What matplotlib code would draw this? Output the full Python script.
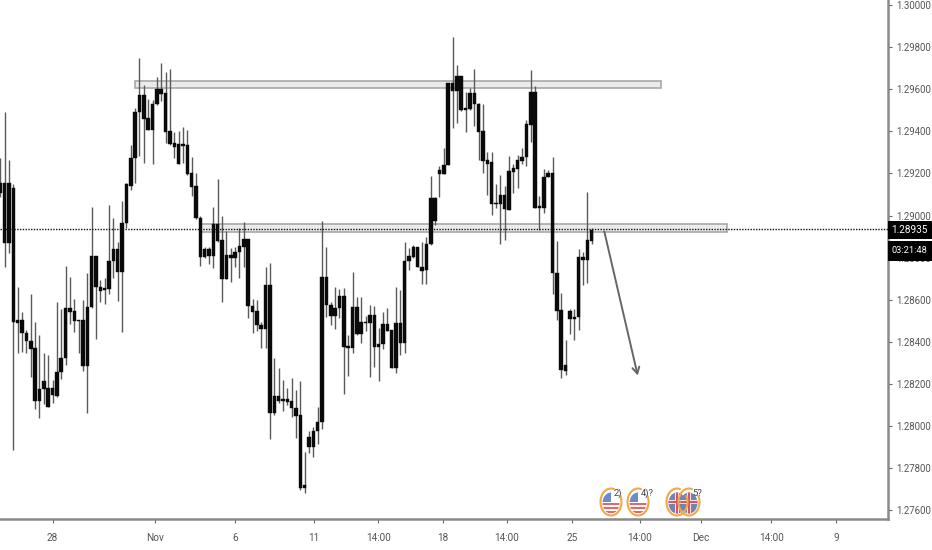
import matplotlib
matplotlib.use("Agg")
import numpy as np
import matplotlib.pyplot as plt
from matplotlib.patches import Rectangle, Ellipse
from matplotlib.lines import Line2D

W, H = 932, 550
high = [1.29272,1.29493,1.29264,1.29150,1.28662,1.28543,1.28456,1.28625,1.28496,1.28432,
1.28348,1.28337,1.28218,1.28587,1.28556,1.28760,1.28706,1.28603,1.28503,1.28598,
1.28728,1.29042,1.28808,1.28694,1.28701,1.29050,1.28987,1.28876,1.29069,1.29153,
1.29335,1.29512,1.29750,1.29620,1.29552,1.29549,1.29660,1.29723,1.29680,1.29696,
1.29398,1.29403,1.29422,1.29406,1.29280,1.29204,1.28999,1.28849,1.28852,1.29042,
1.29172,1.28999,1.28928,1.28844,1.28852,1.28942,1.28968,1.28888,1.28603,1.28598,
1.28496,1.28754,1.28776,1.28321,1.28274,1.28218,1.28182,1.28226,1.28171,1.28214,
1.27878,1.27978,1.27997,1.28088,1.28974,1.28852,1.28591,1.28662,1.28651,1.28654,
1.28432,1.28733,1.28614,1.28614,1.28522,1.28575,1.28572,1.28464,1.28540,1.28562,
1.28456,1.28662,1.28646,1.28876,1.28844,1.28860,1.28849,1.28873,1.28896,1.29188,
1.29090,1.29235,1.29322,1.29628,1.29846,1.29715,1.29664,1.29588,1.29604,1.29696,
1.29533,1.29529,1.29303,1.29300,1.29149,1.29192,1.29140,1.29284,1.29243,1.29287,
1.29319,1.29456,1.29691,1.29616,1.29092,1.29219,1.29216,1.29279,1.28878,1.28630,
1.28408,1.28554,1.28554,1.28843,1.28828,1.29113,1.28943]
body_top = [1.29156,1.29156,1.29153,1.29129,1.28503,1.28503,1.28443,1.28405,1.28369,1.28176,
1.28214,1.28179,1.28179,1.28255,1.28324,1.28562,1.28562,1.28546,1.28503,1.28503,
1.28567,1.28808,1.28808,1.28662,1.28654,1.28785,1.28839,1.28839,1.28963,1.29148,
1.29275,1.29493,1.29573,1.29573,1.29462,1.29530,1.29601,1.29601,1.29581,1.29403,
1.29343,1.29338,1.29338,1.29333,1.29200,1.29140,1.28990,1.28839,1.28839,1.28960,
1.28960,1.28884,1.28812,1.28812,1.28828,1.28855,1.28888,1.28888,1.28572,1.28546,
1.28480,1.28670,1.28670,1.28142,1.28142,1.28126,1.28126,1.28119,1.28084,1.28052,
1.27719,1.27946,1.27978,1.28020,1.28706,1.28706,1.28575,1.28559,1.28619,1.28619,
1.28380,1.28567,1.28567,1.28496,1.28496,1.28527,1.28527,1.28388,1.28484,1.28484,
1.28456,1.28491,1.28491,1.28785,1.28808,1.28849,1.28849,1.28757,1.28865,1.29082,
1.29082,1.29216,1.29240,1.29628,1.29628,1.29664,1.29664,1.29509,1.29580,1.29580,
1.29529,1.29401,1.29263,1.29252,1.29060,1.29097,1.29097,1.29211,1.29224,1.29263,
1.29279,1.29434,1.29585,1.29585,1.29045,1.29181,1.29203,1.29203,1.28725,1.28550,
1.28289,1.28547,1.28516,1.28801,1.28801,1.28883,1.28931]
body_bot = [1.29109,1.28871,1.28871,1.28496,1.28491,1.28440,1.28404,1.28366,1.28120,1.28120,
1.28174,1.28092,1.28147,1.28144,1.28255,1.28324,1.28543,1.28500,1.28499,1.28286,
1.28286,1.28564,1.28662,1.28643,1.28646,1.28649,1.28784,1.28730,1.28730,1.28963,
1.29142,1.29272,1.29490,1.29459,1.29406,1.29406,1.29530,1.29576,1.29398,1.29340,
1.29324,1.29243,1.29330,1.29196,1.29137,1.28987,1.28804,1.28804,1.28809,1.28809,
1.28880,1.28698,1.28698,1.28796,1.28796,1.28825,1.28852,1.28570,1.28543,1.28480,
1.28462,1.28462,1.28060,1.28060,1.28119,1.28120,1.28115,1.28084,1.28049,1.27704,
1.27707,1.27898,1.27898,1.27976,1.28017,1.28575,1.28522,1.28522,1.28559,1.28377,
1.28372,1.28372,1.28437,1.28437,1.28488,1.28488,1.28377,1.28377,1.28388,1.28453,
1.28274,1.28274,1.28393,1.28393,1.28785,1.28804,1.28757,1.28738,1.28741,1.28865,
1.28974,1.29197,1.29197,1.29239,1.29593,1.29593,1.29501,1.29501,1.29506,1.29529,
1.29398,1.29260,1.29247,1.29057,1.29054,1.29054,1.29029,1.29026,1.29205,1.29220,
1.29258,1.29276,1.29430,1.29034,1.29034,1.29038,1.29181,1.28725,1.28547,1.28265,
1.28262,1.28508,1.28508,1.28516,1.28788,1.28788,1.28880]
low = [1.29090,1.28757,1.28820,1.27886,1.28348,1.28353,1.28348,1.28231,1.28081,1.28039,
1.28104,1.28092,1.28107,1.28139,1.28221,1.28290,1.28484,1.28445,1.28348,1.28263,
1.28060,1.28559,1.28413,1.28591,1.28579,1.28627,1.28701,1.28595,1.28445,1.28939,
1.29121,1.29153,1.29284,1.29248,1.29406,1.29243,1.29525,1.29544,1.29346,1.29335,
1.29272,1.29243,1.29248,1.29192,1.29094,1.28983,1.28762,1.28796,1.28770,1.28749,
1.28876,1.28591,1.28697,1.28682,1.28757,1.28701,1.28757,1.28511,1.28440,1.28451,
1.28372,1.28372,1.27938,1.28052,1.28107,1.28071,1.28100,1.28044,1.27941,1.27696,
1.27680,1.27873,1.27851,1.27914,1.27984,1.28519,1.28480,1.28461,1.28515,1.28150,
1.28237,1.28345,1.28432,1.28393,1.28451,1.28231,1.28282,1.28215,1.28366,1.28453,
1.28274,1.28250,1.28337,1.28345,1.28741,1.28796,1.28754,1.28673,1.28673,1.28860,
1.28955,1.29086,1.29197,1.29239,1.29418,1.29441,1.29496,1.29398,1.29501,1.29425,
1.29263,1.29200,1.29097,1.29002,1.29034,1.28867,1.28883,1.29026,1.29105,1.29132,
1.29247,1.29236,1.29350,1.29034,1.28931,1.29013,1.29181,1.28626,1.28503,1.28230,
1.28242,1.28435,1.28408,1.28455,1.28669,1.28677,1.28864]

price_ticks = [1.30000,1.29800,1.29600,1.29400,1.29200,1.29000,1.28800,1.28600,
               1.28400,1.28200,1.28000,1.27800,1.27600]
time_labels = ["28","Nov","6","11","14:00","18","14:00","25","14:00","Dec","14:00","9"]
time_pos = [12.0,35.6,54.0,72.2,86.9,101.8,116.5,131.5,147.1,161.1,177.3,192.2]
last_price = 1.28935
countdown = "03:21:48"
zone_upper = (31.0, 151.9, 1.29604, 1.29640)
zone_lower = (46.2, 167.1, 1.28924, 1.28962)
arrow_from = (138.9, 1.28925)
arrow_to = (146.6, 1.28240)
events = [(611, "2)", "us"), (638, "4)?", "us"), (677, "", "uk"), (689, "5?", "uk")]

plt.rcParams["font.family"] = ["Roboto", "DejaVu Sans"]
fig = plt.figure(figsize=(W/100, H/100), dpi=100)
ax = fig.add_axes([0, 31/H, 888/W, 519/H])
ax.set_xlim(-0.076, 204.16)
ax.set_ylim(1.27558, 1.30024)

x = np.arange(len(high))
ax.vlines(x, low, high, color="#5a5a5a", lw=1.0, zorder=3)
ax.bar(x, np.array(body_top)-np.array(body_bot), bottom=body_bot, width=0.8,
       color="#0a0a0a", edgecolor="#0a0a0a", lw=0.3, zorder=4)

for x0, x1, y0, y1 in (zone_upper, zone_lower):
    ax.add_patch(Rectangle((x0, y0), x1-x0, y1-y0, fc="#ebebed", ec="#a8a8a8", lw=1.2, zorder=2))

ax.axhline(last_price, color="#111111", lw=1.0, ls=(0, (1, 1)), zorder=5)
ax.annotate("", xy=arrow_to, xytext=arrow_from,
            arrowprops=dict(arrowstyle="->,head_length=0.45,head_width=0.25", color="#666666",
                            lw=1.4, shrinkA=0, shrinkB=0), zorder=5)

for s in ("top", "left"):
    ax.spines[s].set_visible(False)
for s in ("right", "bottom"):
    ax.spines[s].set_color("#8a8a8a")
    ax.spines[s].set_linewidth(1.8)
ax.yaxis.tick_right()
ax.set_yticks(price_ticks, [f"{v:.5f}" for v in price_ticks])
ax.set_xticks(time_pos, time_labels)
ax.tick_params(axis="y", length=3, width=0.8, color="#666666", labelcolor="#555555", labelsize=6.9, pad=3)
ax.tick_params(axis="x", length=3, width=0.8, color="#666666", labelcolor="#555555", labelsize=7.2, pad=7)

def px_box(y0, y1, label, size):
    fig.add_artist(Rectangle((888/W, 1-y1/H), 44/W, (y1-y0)/H, transform=fig.transFigure, fc="black", ec="none", zorder=10))
    fig.text(909.5/W, 1-(y0+y1)/2/H, label, color="white", fontsize=size, ha="center", va="center", zorder=11)
px_box(221, 239, f"{last_price:.5f}", 7.2)
px_box(241, 261, countdown, 6.7)

# economic event markers, placed in figure pixels
tf = fig.transFigure
def add_clipped(cx, cy, rect_list, clip):
    for (dx, dy, w, h, col) in rect_list:
        r = Rectangle(((cx+dx)/W, 1-(cy+dy+h)/H), w/W, h/H, transform=tf, fc=col, ec="none", zorder=7)
        fig.add_artist(r)
        r.set_clip_path(clip)

for cx, lab, kind in events:
    cy = 502
    fig.add_artist(Ellipse((cx/W, 1-cy/H), 21/W, 27/H, transform=tf, fc="white", ec="none", zorder=6))
    inner = Ellipse((cx/W, 1-(cy+1)/H), 17/W, 21/H, transform=tf, fc="none", ec="none")
    if kind == "us":
        parts = [(-9, dy, 18, 2, "#e8666a") for dy in (1, 5, 9)] + [(-9, -10, 9, 10, "#6c8cc8")]
    else:
        parts = [(-9, -10, 18, 22, "#7582b4"), (-9, -2, 18, 4, "#f4e6e6"), (-2, -10, 4, 22, "#f4e6e6"),
                 (-9, -1, 18, 2, "#d9545c"), (-1, -10, 2, 22, "#d9545c")]
    add_clipped(cx, cy, parts, inner)
    t = np.radians(np.linspace(75, 385, 80))
    fig.add_artist(Line2D((cx+10.5*np.cos(t))/W, 1-(cy-13.5*np.sin(t))/H, transform=tf,
                          color="#f0a848", lw=1.5, zorder=8))
    if lab:
        fig.text((cx+3)/W, 1-(cy-9)/H, lab, fontsize=6.8, color="#444444", va="center", ha="left", zorder=9)

fig.savefig("out.png", dpi=100, facecolor="white")
